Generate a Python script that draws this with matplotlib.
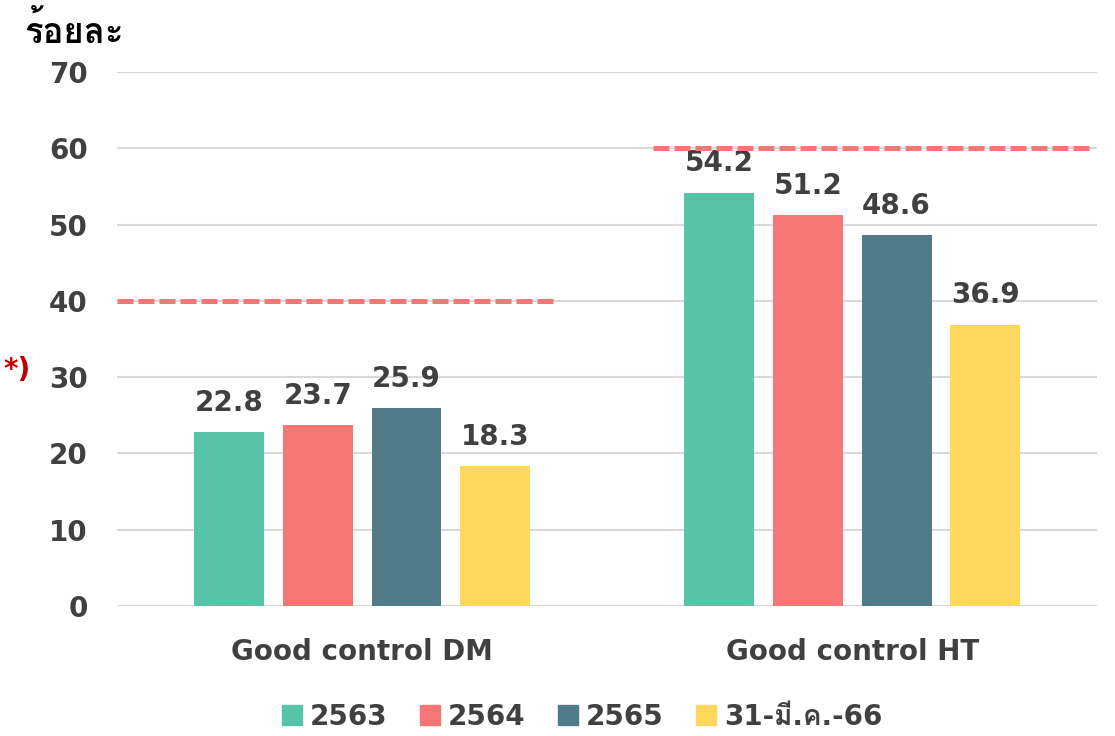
import numpy as np
import matplotlib
matplotlib.use('Agg')
from matplotlib import pyplot as plt
from matplotlib import font_manager
from matplotlib.ft2font import FT2Font
from matplotlib.patches import Patch

groups = ['Good control DM', 'Good control HT']
series = ['2563', '2564', '2565', '31-มี.ค.-66']
values = [
    [22.8, 54.2],
    [23.7, 51.2],
    [25.9, 48.6],
    [18.3, 36.9],
]
targets = [40, 60]
colors = ['#57C4A9', '#F47775', '#517B89', '#FFD75C']

# pick any installed font that covers Thai script
thai_font = None
for f in font_manager.fontManager.ttflist:
    try:
        if 0x0E23 in FT2Font(f.fname).get_charmap():
            thai_font = f.name
            break
    except Exception:
        pass
fonts = ['DejaVu Sans']
if thai_font:
    fonts.append(thai_font)
plt.rcParams['font.family'] = fonts

fig = plt.figure(figsize=(11.15, 7.36), dpi=100)
ax = fig.add_axes([0.105, 0.1766, 0.879, 0.7256])

x = np.arange(len(groups))
step = 0.1813
width = 0.1426
for i, (name, vals) in enumerate(zip(series, values)):
    pos = x + (i - 1.5) * step
    bars = ax.bar(pos, vals, width, color=colors[i], label=name, zorder=3)
    for b, v in zip(bars, vals):
        ax.annotate(f'{v:.1f}', (b.get_x() + b.get_width() / 2, v),
                    xytext=(0, 21), textcoords='offset points',
                    ha='center', va='center', fontsize=20, fontweight='bold',
                    color='#404040')

# target lines
ax.plot([-0.5, 0.39], [targets[0], targets[0]], color='#F47775', lw=3.6,
        dashes=(3.2, 1.0), zorder=4)
ax.plot([0.594, 1.484], [targets[1], targets[1]], color='#F47775', lw=3.6,
        dashes=(3.2, 1.0), zorder=4)

ax.set_xlim(-0.5, 1.5)
ax.set_ylim(0, 70)
ax.set_yticks(range(0, 71, 10))
ax.set_xticks(x)
ax.set_xticklabels(groups, fontsize=20, fontweight='bold', color='#404040')
ax.tick_params(axis='y', labelsize=20, labelcolor='#404040', length=0, pad=21)
ax.tick_params(axis='x', length=0, pad=23)
for lbl in ax.get_yticklabels():
    lbl.set_fontweight('bold')
ax.grid(axis='y', color='#D9D9D9', lw=1.5, zorder=0)
for s in ax.spines.values():
    s.set_visible(False)

fig.text(0.022, 0.958, 'ร้อยละ', fontsize=25, fontweight='bold', color='black',
         ha='left', va='center')
fig.text(0.003, 0.497, '*)', fontsize=20, fontweight='bold', color='#C00000',
         ha='left', va='center')

handles = [Patch(color=c) for c in colors]
fig.legend(handles, series, loc='center', bbox_to_anchor=(0.522, 0.026),
           ncol=4, frameon=False, handlelength=0.72,
           handleheight=0.72, columnspacing=1.15, handletextpad=0.3,
           prop={'weight': 'bold', 'size': 20})
for t in fig.legends[0].get_texts():
    t.set_color('#404040')

fig.savefig('out.png', dpi=100)
